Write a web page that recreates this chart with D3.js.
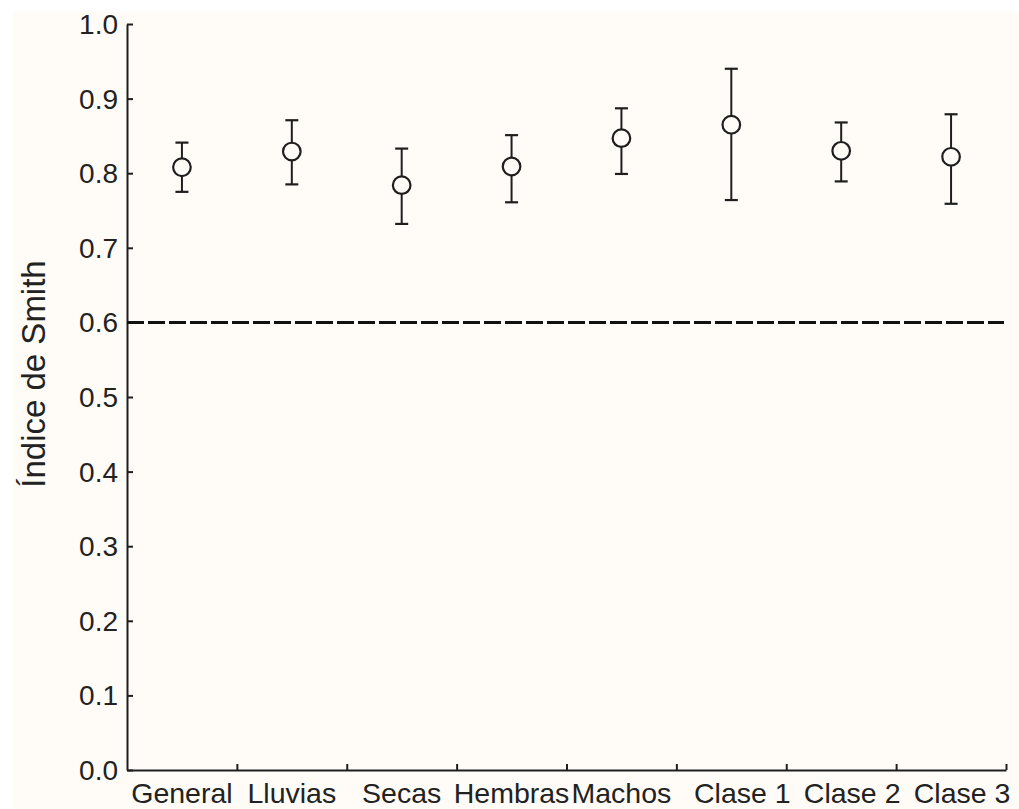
<!DOCTYPE html>
<html>
<head>
<meta charset="utf-8">
<script src="https://cdn.jsdelivr.net/npm/d3@7/dist/d3.min.js"></script>
<style>
  html, body { margin: 0; padding: 0; background: #ffffff; }
  svg { display: block; font-family: "Liberation Sans", Arial, sans-serif; }
</style>
</head>
<body>
<svg id="chart" width="1019" height="809"></svg>
<script>
const categories = ["General", "Lluvias", "Secas", "Hembras", "Machos", "Clase 1", "Clase 2", "Clase 3"];
const means  = [0.808, 0.829, 0.784, 0.809, 0.847, 0.865, 0.830, 0.822];
const lower  = [0.775, 0.785, 0.732, 0.761, 0.799, 0.764, 0.789, 0.759];
const upper  = [0.841, 0.871, 0.833, 0.851, 0.887, 0.940, 0.868, 0.879];
const yTicks = [0.0, 0.1, 0.2, 0.3, 0.4, 0.5, 0.6, 0.7, 0.8, 0.9, 1.0];
const threshold = 0.6;
const yTitle = "Índice de Smith";

(function () {
const svg = d3.select("#chart");
const W = 1019, H = 809;
const mLeft = 127, mRight = 1006, mTop = 24, mBottom = 770;
const ink = "#1e1e1e";
const bg = "#fffcf8";

svg.append("rect").attr("x", 13).attr("y", 12).attr("width", W - 13).attr("height", H - 12).attr("fill", bg);

const x = d3.scaleBand().domain(categories).range([mLeft, mRight]).padding(0);
const xi = d3.scaleLinear().domain([0, categories.length]).range([mLeft, mRight]);
const y = d3.scaleLinear().domain([0, 1]).range([mBottom, mTop]);

// Y axis
const yAxis = d3.axisLeft(y).tickValues(yTicks).tickFormat(d3.format(".1f"))
  .tickSizeInner(-6).tickSizeOuter(0).tickPadding(9);
const gy = svg.append("g").attr("transform", `translate(${mLeft},0)`).call(yAxis);
gy.select(".domain").attr("stroke", ink).attr("stroke-width", 2);
gy.selectAll(".tick line").attr("stroke", ink).attr("stroke-width", 2);
gy.selectAll(".tick text").attr("fill", "#222").attr("font-size", 28)
  .attr("font-family", "'Liberation Sans', Arial, sans-serif").attr("dy", "0.34em");

// X axis (ticks at category boundaries)
const xAxis = d3.axisBottom(xi).tickValues(d3.range(1, categories.length + 1))
  .tickFormat("").tickSizeInner(-6).tickSizeOuter(0);
const gx = svg.append("g").attr("transform", `translate(0,${mBottom})`).call(xAxis);
gx.select(".domain").attr("stroke", ink).attr("stroke-width", 2);
gx.selectAll(".tick line").attr("stroke", ink).attr("stroke-width", 2);

// Category labels
svg.append("g").selectAll("text").data(categories).join("text")
  .attr("x", d => x(d) + x.bandwidth() / 2 + (d.startsWith("Clase") ? 11 : 0))
  .attr("y", 803)
  .attr("text-anchor", "middle")
  .attr("font-size", 28.5)
  .attr("fill", "#222")
  .text(d => d);

// Y title
svg.append("text")
  .attr("transform", `translate(45,374) rotate(-90)`)
  .attr("text-anchor", "middle")
  .attr("font-size", 33)
  .attr("fill", "#222")
  .text(yTitle);

// Threshold dashed line
svg.append("line")
  .attr("x1", mLeft).attr("x2", mRight - 2)
  .attr("y1", y(threshold)).attr("y2", y(threshold))
  .attr("stroke", "#111").attr("stroke-width", 3)
  .attr("stroke-dasharray", "17,4");

// Error bars
const data = categories.map((c, i) => ({ c, m: means[i], lo: lower[i], hi: upper[i] }));
const g = svg.append("g");
const cx = d => x(d.c) + x.bandwidth() / 2;
g.selectAll("line.err").data(data).join("line").attr("class", "err")
  .attr("x1", cx).attr("x2", cx)
  .attr("y1", d => y(d.lo)).attr("y2", d => y(d.hi))
  .attr("stroke", ink).attr("stroke-width", 2);
g.selectAll("line.capHi").data(data).join("line").attr("class", "capHi")
  .attr("x1", d => cx(d) - 6.5).attr("x2", d => cx(d) + 6.5)
  .attr("y1", d => y(d.hi)).attr("y2", d => y(d.hi))
  .attr("stroke", ink).attr("stroke-width", 2.2);
g.selectAll("line.capLo").data(data).join("line").attr("class", "capLo")
  .attr("x1", d => cx(d) - 6.5).attr("x2", d => cx(d) + 6.5)
  .attr("y1", d => y(d.lo)).attr("y2", d => y(d.lo))
  .attr("stroke", ink).attr("stroke-width", 2.2);
g.selectAll("circle").data(data).join("circle")
  .attr("cx", cx).attr("cy", d => y(d.m)).attr("r", 8.8)
  .attr("fill", bg).attr("stroke", ink).attr("stroke-width", 2.2);
})();
</script>
</body>
</html>
